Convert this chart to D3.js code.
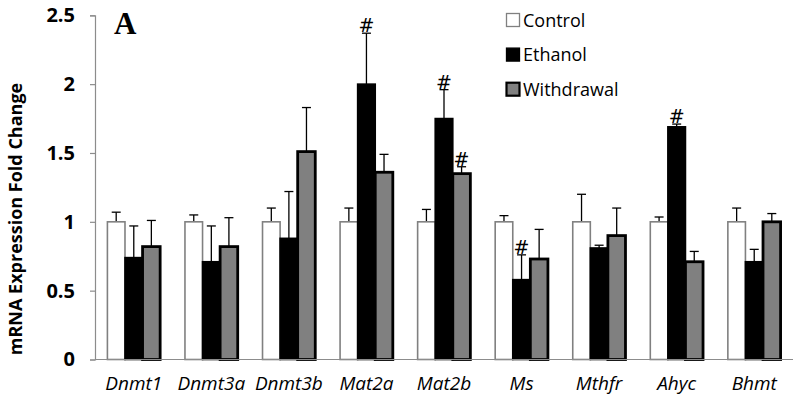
<!DOCTYPE html>
<html><head><meta charset="utf-8">
<script src="https://cdn.jsdelivr.net/npm/d3@7"></script>
<style>body{margin:0;background:#fff}svg{display:block}</style>
</head><body>
<script>
const categories = ["Dnmt1","Dnmt3a","Dnmt3b","Mat2a","Mat2b","Ms","Mthfr","Ahyc","Bhmt"];
const seriesNames = ["Control","Ethanol","Withdrawal"];
const control = [1,1,1,1,1,1,1,1,1];
const controlErr = [0.07,0.05,0.10,0.10,0.09,0.045,0.20,0.035,0.10];
const ethanol = [0.74,0.71,0.88,2.00,1.75,0.58,0.81,1.69,0.71];
const ethanolErr = [0.23,0.26,0.34,0.37,0.21,0.18,0.02,0.02,0.09];
const withdrawal = [0.82,0.82,1.51,1.36,1.35,0.73,0.90,0.71,1.00];
const withdrawalErr = [0.19,0.21,0.32,0.13,0.05,0.215,0.20,0.075,0.06];
const controlSig = [0,0,0,0,0,0,0,0,0];
const ethanolSig = [0,0,0,1,1,1,0,1,0];
const withdrawalSig = [0,0,0,0,1,0,0,0,0];
const yTicks = [0,0.5,1,1.5,2,2.5];
const yTickLabels = ["0","0.5","1","1.5","2","2.5"];

const W = 800, H = 401;
const svg = d3.select("body").append("svg").attr("width", W).attr("height", H);

const x = d3.scaleBand().domain(categories).range([95, 793]).paddingInner(0.32).paddingOuter(0.16);
const xs = d3.scaleBand().domain(seriesNames).range([0, x.bandwidth()]).padding(0);
const y = d3.scaleLinear().domain([0, 2.5]).range([359.5, 15.3]);

const styles = {
  Control: {fill: "#ffffff", stroke: "#808080", sw: 1.6},
  Ethanol: {fill: "#000000", stroke: "#000000", sw: 1.6},
  Withdrawal: {fill: "#808080", stroke: "#000000", sw: 2.8}
};
const vals = {Control: control, Ethanol: ethanol, Withdrawal: withdrawal};
const errs = {Control: controlErr, Ethanol: ethanolErr, Withdrawal: withdrawalErr};
const sigs = {Control: controlSig, Ethanol: ethanolSig, Withdrawal: withdrawalSig};

// y axis
const yAxis = d3.axisLeft(y).tickValues(yTicks).tickFormat((d,i) => yTickLabels[i]).tickSize(5).tickPadding(15);
const gy = svg.append("g").attr("transform", "translate(95,0)").call(yAxis);
gy.select(".domain").attr("stroke", "#8c8c8c").attr("stroke-width", 1.2);
gy.selectAll(".tick line").attr("stroke", "#8c8c8c").attr("stroke-width", 1.2);
gy.selectAll(".tick text").attr("font-family", "'Open Sans', sans-serif").attr("font-weight", "bold")
  .attr("font-size", 20).attr("fill", "#000");

// bars
const data = [];
categories.forEach((c, i) => seriesNames.forEach(s => data.push({c, s, v: vals[s][i], e: errs[s][i], sig: sigs[s][i]})));

const g = svg.append("g");
g.selectAll("line.err").data(data).join("line").attr("class", "err")
  .attr("x1", d => x(d.c) + xs(d.s) + xs.bandwidth()/2)
  .attr("x2", d => x(d.c) + xs(d.s) + xs.bandwidth()/2)
  .attr("y1", d => y(d.v)).attr("y2", d => y(d.v + d.e))
  .attr("stroke", "#000").attr("stroke-width", 1.3);
g.selectAll("line.cap").data(data).join("line").attr("class", "cap")
  .attr("x1", d => x(d.c) + xs(d.s) + xs.bandwidth()/2 - 4.5)
  .attr("x2", d => x(d.c) + xs(d.s) + xs.bandwidth()/2 + 4.5)
  .attr("y1", d => y(d.v + d.e)).attr("y2", d => y(d.v + d.e))
  .attr("stroke", "#000").attr("stroke-width", 1.3);

g.selectAll("rect.bar").data(data).join("rect").attr("class", "bar")
  .attr("x", d => x(d.c) + xs(d.s))
  .attr("width", xs.bandwidth())
  .attr("y", d => y(d.v))
  .attr("height", d => y(0) - y(d.v))
  .attr("fill", d => styles[d.s].fill)
  .attr("stroke", d => styles[d.s].stroke)
  .attr("stroke-width", d => styles[d.s].sw);

// x axis line
svg.append("line").attr("x1", 95).attr("x2", 793).attr("y1", y(0)).attr("y2", y(0))
  .attr("stroke", "#8c8c8c").attr("stroke-width", 1.2);

// significance
g.selectAll("text.sig").data(data.filter(d => d.sig)).join("text").attr("class", "sig")
  .attr("x", d => x(d.c) + xs(d.s) + xs.bandwidth()/2)
  .attr("y", d => y(d.v + d.e) - 1)
  .attr("text-anchor", "middle")
  .attr("font-family", "'DejaVu Sans', sans-serif").attr("font-size", 19).attr("fill", "#000")
  .text("#");

// x labels
svg.append("g").selectAll("text").data(categories).join("text")
  .attr("x", d => x(d) + x.bandwidth()/2)
  .attr("y", 390)
  .attr("text-anchor", "middle")
  .attr("font-family", "'Open Sans', sans-serif").attr("font-style", "italic").attr("font-size", 19)
  .attr("fill", "#000")
  .text(d => d);

// y label
svg.append("text").attr("transform", "translate(22,219) rotate(-90)")
  .attr("text-anchor", "middle")
  .attr("font-family", "'Open Sans', sans-serif").attr("font-weight", "bold").attr("font-size", 18)
  .attr("fill", "#000").text("mRNA Expression Fold Change");

// panel letter
svg.append("text").attr("x", 114).attr("y", 34)
  .attr("font-family", "'Liberation Serif', serif").attr("font-weight", "bold").attr("font-size", 31)
  .attr("fill", "#000").text("A");

// legend
const leg = svg.append("g");
seriesNames.forEach((s, i) => {
  const cy = 20 + i * 34.6;
  leg.append("rect").attr("x", 506.5).attr("y", cy - 6.5).attr("width", 13).attr("height", 13)
    .attr("fill", styles[s].fill).attr("stroke", styles[s].stroke).attr("stroke-width", s === "Withdrawal" ? 2.2 : 1.3);
  leg.append("text").attr("x", 523).attr("y", cy + 6.5)
    .attr("font-family", "'Open Sans', sans-serif").attr("font-size", 18).attr("fill", "#000").text(s);
});
</script>
</body></html>
